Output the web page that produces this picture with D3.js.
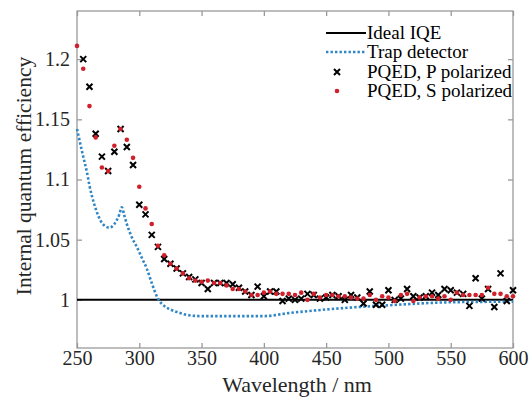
<!DOCTYPE html>
<html>
<head>
<meta charset="utf-8">
<script src="https://cdn.jsdelivr.net/npm/d3@7"></script>
<style>
  body { margin: 0; background: #fff; }
  svg { display: block; font-family: "Liberation Serif", "Times New Roman", serif; }
</style>
</head>
<body>
<div id="chart"></div>
<script>
const width = 532, height = 400;

// measured wavelengths (nm)
const wlS = [250,255,260,265,270,275,280,285,290,295,300,305,310,315,320,325,330,335,340,345,
  350,355,360,365,370,375,380,385,390,395,400,405,410,415,420,425,430,435,440,445,
  450,455,460,465,470,475,480,485,490,495,500,505,510,515,520,525,530,535,540,545,
  550,555,560,565,570,575,580,585,590,595,600];
const wlP = wlS.slice(1);

// PQED, S polarized
const iqeS = [1.211,1.192,1.161,1.135,1.110,1.107,1.128,1.142,1.133,1.118,1.094,1.076,1.063,1.045,1.037,1.030,1.026,1.022,1.018,1.016,
  1.015,1.016,1.014,1.014,1.012,1.009,1.009,1.007,1.004,1.004,1.006,1.007,1.005,1.005,1.005,1.004,1.006,1.000,1.005,1.002,
  1.004,1.004,1.003,1.003,1.002,1.001,1.001,1.004,1.000,1.003,1.002,0.999,1.004,1.005,0.999,1.002,1.003,1.003,1.001,1.003,
  1.000,1.006,1.004,1.004,1.004,1.004,1.010,1.005,1.005,1.003,1.003];

// PQED, P polarized
const iqeP = [1.200,1.177,1.138,1.119,1.107,1.123,1.142,1.127,1.112,1.079,1.071,1.054,1.044,1.034,1.030,1.026,1.022,1.019,1.017,
  1.014,1.009,1.014,1.014,1.014,1.013,1.010,1.007,1.004,1.011,1.003,1.007,1.007,0.999,1.001,1.000,1.001,1.005,1.004,1.001,
  1.002,1.004,1.003,1.000,1.004,1.002,0.997,1.007,0.996,0.996,1.008,1.000,1.001,1.009,1.003,1.002,1.003,1.006,1.004,1.009,
  1.008,1.006,1.005,0.995,1.018,1.001,1.009,0.994,1.022,0.999,1.008];

// Trap detector curve
const wlTrap = [250,255,258,260,264,270,273,276,280,284,286,288,290,294,298,302,306,310,315,320,325,330,340,350,400,420,450,475,500,550,600];
const iqeTrap = [1.142,1.119,1.106,1.095,1.079,1.064,1.061,1.060,1.063,1.071,1.077,1.070,1.063,1.052,1.044,1.035,1.026,1.014,1.001,0.995,0.992,0.990,0.9872,0.9865,0.9865,0.989,0.992,0.994,0.9955,0.998,0.9985];

const xTicks = [250,300,350,400,450,500,550,600];
const yTicks = [1,1.05,1.1,1.15,1.2];
const legendLabels = ["Ideal IQE","Trap detector","PQED, P polarized","PQED, S polarized"];

const blue = "#2e86c6", red = "#d0202c", axisGray = "#9a9a9a";
const serif = '"Liberation Serif", "Times New Roman", serif';

const svg = d3.select("#chart").append("svg").attr("width", width).attr("height", height);

const x = d3.scaleLinear().domain([250, 600]).range([77, 513]);
const y = d3.scaleLinear().domain([0.96, 1.24]).range([348, 11]);

// box
svg.append("rect")
  .attr("x", 77).attr("y", 11)
  .attr("width", 513 - 77).attr("height", 348 - 11)
  .attr("fill", "none").attr("stroke", axisGray).attr("stroke-width", 1.3);

const styleAxis = g => {
  g.attr("font-family", serif).attr("font-size", 20);
  g.select(".domain").remove();
  g.selectAll(".tick line").attr("stroke", axisGray).attr("stroke-width", 1.3);
  g.selectAll(".tick text").attr("fill", "#262626");
};

svg.append("g").attr("transform", "translate(0,348)")
  .call(d3.axisBottom(x).tickValues(xTicks).tickSizeInner(-5).tickSizeOuter(0).tickPadding(3))
  .call(styleAxis);
svg.append("g").attr("transform", "translate(0,11)")
  .call(d3.axisTop(x).tickValues(xTicks).tickSizeInner(-5).tickSizeOuter(0).tickFormat(""))
  .call(styleAxis);
svg.append("g").attr("transform", "translate(77,0)")
  .call(d3.axisLeft(y).tickValues(yTicks).tickSizeInner(-5).tickSizeOuter(0).tickPadding(7).tickFormat(d => String(+d.toFixed(2))))
  .call(styleAxis);
svg.append("g").attr("transform", "translate(513,0)")
  .call(d3.axisRight(y).tickValues(yTicks).tickSizeInner(-5).tickSizeOuter(0).tickFormat(""))
  .call(styleAxis);

// axis titles
svg.append("text")
  .attr("x", 297).attr("y", 392)
  .attr("text-anchor", "middle")
  .style("font-size", "22px").attr("fill", "#262626")
  .text("Wavelength / nm");

svg.append("text")
  .attr("transform", "translate(31,176) rotate(-90)")
  .attr("text-anchor", "middle")
  .style("font-size", "21.5px").attr("fill", "#262626")
  .text("Internal quantum efficiency");

const plot = svg.append("g");

// ideal IQE
plot.append("line")
  .attr("x1", x(250)).attr("x2", x(600))
  .attr("y1", y(1)).attr("y2", y(1))
  .attr("stroke", "#000").attr("stroke-width", 2);

// trap detector
const line = d3.line().x((d, i) => x(wlTrap[i])).y(d => y(d)).curve(d3.curveMonotoneX);
plot.append("path")
  .datum(iqeTrap)
  .attr("d", line)
  .attr("fill", "none")
  .attr("stroke", blue).attr("stroke-width", 2.6)
  .attr("stroke-dasharray", "2.4,2.1");

const xMark = "M-3,-3L3,3M-3,3L3,-3";

// P polarized
plot.selectAll(".p").data(iqeP).join("path")
  .attr("class", "p")
  .attr("transform", (d, i) => `translate(${x(wlP[i])},${y(d)})`)
  .attr("d", xMark)
  .attr("stroke", "#000").attr("stroke-width", 2);

// S polarized
plot.selectAll(".s").data(iqeS).join("circle")
  .attr("class", "s")
  .attr("cx", (d, i) => x(wlS[i]))
  .attr("cy", d => y(d))
  .attr("r", 2.3)
  .attr("fill", red);

// legend
const lg = svg.append("g");
const rowY = [33, 52, 72, 91];
lg.append("line").attr("x1", 326).attr("x2", 366).attr("y1", rowY[0]).attr("y2", rowY[0])
  .attr("stroke", "#000").attr("stroke-width", 2);
lg.append("line").attr("x1", 326).attr("x2", 366).attr("y1", rowY[1]).attr("y2", rowY[1])
  .attr("stroke", blue).attr("stroke-width", 2.6).attr("stroke-dasharray", "2.4,2.1");
lg.append("path").attr("transform", `translate(337,${rowY[2]})`).attr("d", xMark)
  .attr("stroke", "#000").attr("stroke-width", 2);
lg.append("circle").attr("cx", 337).attr("cy", rowY[3]).attr("r", 2.3).attr("fill", red);

lg.selectAll("text").data(legendLabels).join("text")
  .attr("x", 367)
  .attr("y", (d, i) => rowY[i])
  .attr("dy", "0.33em")
  .style("font-size", "19px").attr("fill", "#000")
  .text(d => d);
</script>
</body>
</html>
